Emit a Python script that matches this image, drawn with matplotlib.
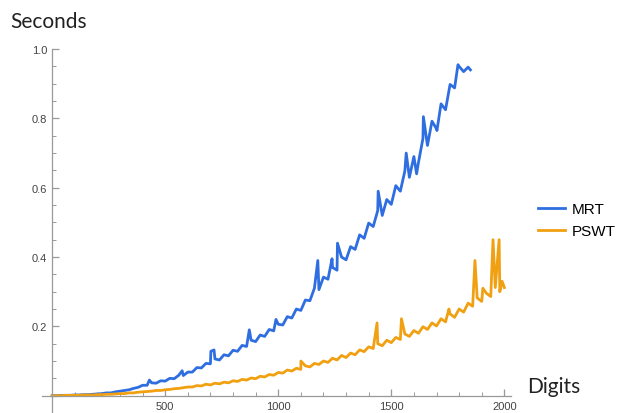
import numpy as np
import matplotlib
matplotlib.use("Agg")
import matplotlib.pyplot as plt
from matplotlib.ticker import MultipleLocator

mrt_digits = np.arange(0, 1860, 20)
mrt_secs = [
    0.000, 0.000, 0.001, 0.001, 0.001, 0.002, 0.002, 0.003, 0.003, 0.004,
    0.005, 0.006, 0.008, 0.008, 0.011, 0.013, 0.015, 0.017, 0.021, 0.024,
    0.030, 0.030, 0.037, 0.036, 0.043, 0.042, 0.050, 0.049, 0.059, 0.058,
    0.068, 0.068, 0.081, 0.080, 0.093, 0.092, 0.106, 0.103, 0.118, 0.115,
    0.131, 0.128, 0.145, 0.142, 0.160, 0.156, 0.175, 0.171, 0.191, 0.187,
    0.206, 0.204, 0.228, 0.224, 0.250, 0.246, 0.276, 0.274, 0.310, 0.306,
    0.342, 0.336, 0.370, 0.362, 0.400, 0.392, 0.430, 0.422, 0.464, 0.454,
    0.498, 0.488, 0.534, 0.520, 0.566, 0.552, 0.606, 0.590, 0.648, 0.630,
    0.690, 0.672, 0.742, 0.722, 0.792, 0.770, 0.842, 0.825, 0.898, 0.888,
    0.950, 0.935, 0.948,
]
# narrow spikes / dips in the MRT trace
mrt_spike_x = [430, 575, 702, 716, 872, 990, 1175, 1238, 1262, 1442, 1566, 1612, 1642, 1702, 1795, 1850]
mrt_spike_y = [0.045, 0.072, 0.128, 0.132, 0.190, 0.220, 0.390, 0.395, 0.440, 0.590, 0.700, 0.640, 0.805, 0.765, 0.955, 0.940]

pswt_digits = np.arange(0, 2020, 20)
pswt_secs = [
    0.000, 0.000, 0.000, 0.001, 0.001, 0.001, 0.001, 0.002, 0.002, 0.002,
    0.003, 0.003, 0.004, 0.004, 0.005, 0.006, 0.006, 0.008, 0.008, 0.010,
    0.011, 0.012, 0.013, 0.015, 0.015, 0.017, 0.018, 0.020, 0.021, 0.023,
    0.025, 0.025, 0.029, 0.028, 0.033, 0.031, 0.036, 0.034, 0.039, 0.037,
    0.043, 0.041, 0.047, 0.045, 0.051, 0.049, 0.056, 0.054, 0.061, 0.059,
    0.067, 0.065, 0.074, 0.071, 0.079, 0.076, 0.086, 0.083, 0.093, 0.090,
    0.100, 0.096, 0.108, 0.103, 0.116, 0.110, 0.123, 0.118, 0.132, 0.127,
    0.141, 0.136, 0.150, 0.144, 0.160, 0.153, 0.168, 0.162, 0.178, 0.171,
    0.188, 0.180, 0.199, 0.191, 0.210, 0.201, 0.222, 0.213, 0.236, 0.226,
    0.250, 0.241, 0.267, 0.258, 0.282, 0.272, 0.296, 0.286, 0.312, 0.300,
    0.312,
]
pswt_spike_x = [1100, 1437, 1545, 1755, 1870, 1905, 1950, 1977, 1990]
pswt_spike_y = [0.100, 0.210, 0.222, 0.250, 0.390, 0.310, 0.450, 0.450, 0.330]


def merge(x, y, sx, sy):
    xs = np.concatenate([x, sx])
    ys = np.concatenate([y, sy])
    order = np.argsort(xs, kind="stable")
    return xs[order], ys[order]


blue = "#2f6ee0"
orange = "#f0a010"

fig = plt.figure(figsize=(6.23, 4.14), dpi=100)
ax = fig.add_axes([0.0674, 0.0, 0.753, 0.879])

x, y = merge(mrt_digits, mrt_secs, mrt_spike_x, mrt_spike_y)
ax.plot(x, y, color=blue, lw=2.0, label="MRT")
x, y = merge(pswt_digits, pswt_secs, pswt_spike_x, pswt_spike_y)
ax.plot(x, y, color=orange, lw=2.0, label="PSWT")

ax.set_xlim(-45, 2030)
ax.set_ylim(-0.05, 1.0)

for side in ["top", "right"]:
    ax.spines[side].set_visible(False)
ax.spines["left"].set_position(("data", 0))
ax.spines["bottom"].set_position(("data", 0))
for side in ["left", "bottom"]:
    ax.spines[side].set_color("#999999")
    ax.spines[side].set_linewidth(0.9)

ax.xaxis.set_minor_locator(MultipleLocator(100))
ax.yaxis.set_minor_locator(MultipleLocator(0.05))
ax.set_xticks([500, 1000, 1500, 2000])
ax.set_yticks([0.2, 0.4, 0.6, 0.8, 1.0])
ax.set_yticklabels(["0.2", "0.4", "0.6", "0.8", "1.0"])
ax.tick_params(which="both", direction="in", colors="#999999",
               labelcolor="#444444", labelsize=8)
ax.tick_params(which="major", length=5, width=0.9)
ax.tick_params(which="minor", length=3, width=0.7)
for lab in ax.get_xticklabels() + ax.get_yticklabels():
    lab.set_family("Liberation Sans")

fig.text(0.016, 0.948, "Seconds", fontsize=15, family="Lato", color="#222222",
         va="center", ha="left")
fig.text(0.846, 0.066, "Digits", fontsize=15, family="Lato", color="#222222",
         va="center", ha="left")

ax.legend(loc="center left", bbox_to_anchor=(1.034, 0.53), frameon=False,
          handlelength=1.8, handletextpad=0.4, borderaxespad=0.3,
          prop={"family": "Liberation Sans", "size": 11},
          labelspacing=0.55)

fig.savefig("out.png", dpi=100)
